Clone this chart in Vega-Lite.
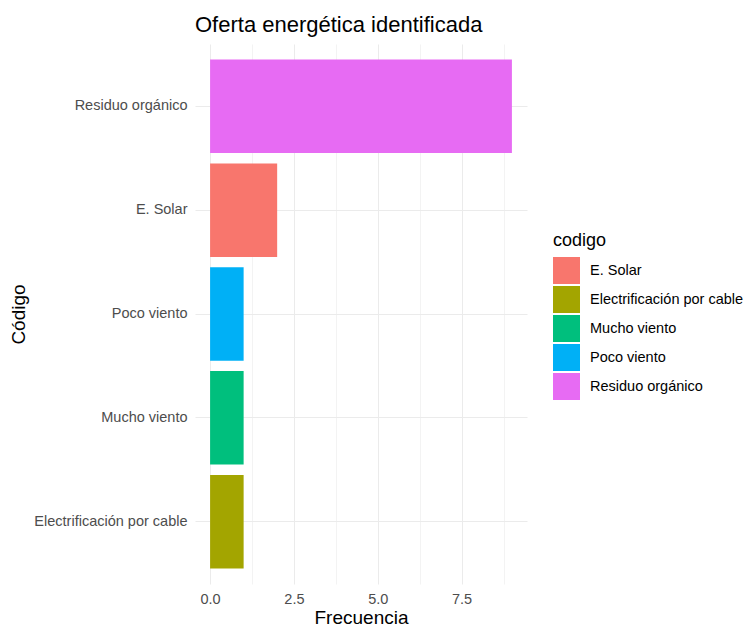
{
  "$schema": "https://vega.github.io/schema/vega-lite/v6.json",
  "width": 332,
  "height": 540,
  "autosize": "none",
  "padding": {"left": 195, "top": 44, "right": 218, "bottom": 44},
  "background": "white",
  "config": {
    "font": "Liberation Sans",
    "view": {"stroke": null}
  },
  "title": {
    "text": "Oferta energética identificada",
    "anchor": "start",
    "frame": "group",
    "fontSize": 22,
    "fontWeight": "normal",
    "color": "#000000",
    "offset": 7
  },
  "data": {
    "values": [
      {"codigo": "Residuo orgánico", "Frecuencia": 9},
      {"codigo": "E. Solar", "Frecuencia": 2},
      {"codigo": "Poco viento", "Frecuencia": 1},
      {"codigo": "Mucho viento", "Frecuencia": 1},
      {"codigo": "Electrificación por cable", "Frecuencia": 1}
    ]
  },
  "mark": {"type": "bar"},
  "encoding": {
    "y": {
      "field": "codigo",
      "type": "nominal",
      "sort": ["Residuo orgánico", "E. Solar", "Poco viento", "Mucho viento", "Electrificación por cable"],
      "scale": {"paddingInner": 0.1, "paddingOuter": 0.15},
      "axis": {
        "title": "Código",
        "ticks": false,
        "domain": false,
        "labelPadding": 8,
        "grid": true,
        "bandPosition": 0.5,
        "gridColor": "#EBEBEB",
        "gridWidth": 1,
        "labelColor": "#4D4D4D",
        "labelFontSize": 14.5,
        "titleFontSize": 19,
        "titleFontWeight": "normal",
        "titleColor": "#000000",
        "titlePadding": 5
      }
    },
    "x": {
      "field": "Frecuencia",
      "type": "quantitative",
      "scale": {"domain": [-0.45, 9.45], "nice": false, "zero": false},
      "axis": {
        "title": "Frecuencia",
        "values": [0, 1.25, 2.5, 3.75, 5, 6.25, 7.5, 8.75],
        "labelExpr": "datum.value % 2.5 === 0 ? format(datum.value, '.1f') : ''",
        "ticks": false,
        "domain": false,
        "labelPadding": 8,
        "grid": true,
        "gridColor": "#EBEBEB",
        "gridWidth": {"condition": {"test": "datum.value % 2.5 === 0", "value": 1}, "value": 0.6},
        "labelColor": "#4D4D4D",
        "labelFontSize": 14.5,
        "titleFontSize": 19,
        "titleFontWeight": "normal",
        "titleColor": "#000000",
        "titlePadding": 3
      }
    },
    "x2": {"datum": 0},
    "color": {
      "field": "codigo",
      "type": "nominal",
      "scale": {
        "domain": ["E. Solar", "Electrificación por cable", "Mucho viento", "Poco viento", "Residuo orgánico"],
        "range": ["#F8766D", "#A3A500", "#00BF7D", "#00B0F6", "#E76BF3"]
      },
      "legend": {
        "orient": "none",
        "legendX": 358,
        "legendY": 188,
        "title": "codigo",
        "titleFontSize": 18,
        "titleFontWeight": "normal",
        "titleColor": "#000000",
        "titlePadding": 7,
        "symbolType": "square",
        "symbolSize": 729,
        "symbolStrokeWidth": 0,
        "symbolOpacity": 1,
        "labelFontSize": 14.5,
        "labelColor": "#000000",
        "labelOffset": 10,
        "rowPadding": 2
      }
    }
  }
}
